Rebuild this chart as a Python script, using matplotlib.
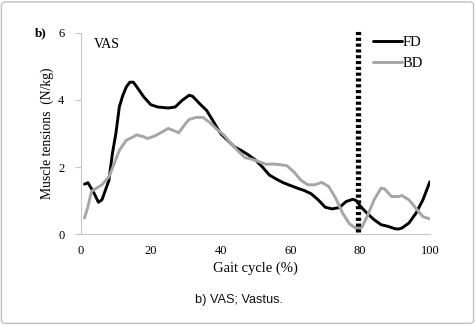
import matplotlib
matplotlib.use("Agg")
import matplotlib.pyplot as plt
from matplotlib.patches import FancyBboxPatch

fd_x = [1, 2, 3.5, 5, 6, 8, 9, 10, 11, 12, 13, 14, 15, 16, 18, 20, 22, 25, 27, 29, 31, 32, 34, 36, 38,
        40, 42, 44, 46, 48, 50, 52, 54, 56, 58, 60, 62, 64, 66, 68, 70, 72, 74, 76, 78, 79, 80, 82,
        84, 86, 88, 90, 91, 92, 94, 96, 98, 100]
fd_y = [1.49, 1.53, 1.27, 0.95, 1.02, 1.6, 2.4, 3.0, 3.8, 4.14, 4.39, 4.53, 4.53, 4.39, 4.09, 3.86,
        3.79, 3.76, 3.79, 3.99, 4.14, 4.11, 3.89, 3.69, 3.35, 3.0, 2.8, 2.6, 2.49, 2.36, 2.21, 2.0,
        1.76, 1.64, 1.53, 1.45, 1.37, 1.30, 1.2, 1.02, 0.8, 0.75, 0.79, 0.97, 1.04, 0.99, 0.84, 0.62,
        0.43, 0.28, 0.23, 0.16, 0.15, 0.18, 0.33, 0.62, 1.02, 1.56]

bd_x = [1, 2, 3, 4, 6, 8, 9, 11, 13, 15, 16, 18, 19, 21, 23, 25, 27, 28, 30, 31, 33, 35, 37, 39, 41,
        43, 45, 47, 49, 51, 53, 55, 57, 59, 61, 63, 65, 67, 69, 71, 73, 75, 77, 79, 80.5, 82, 84, 86,
        87, 89, 91, 92, 94, 96, 98, 100]
bd_y = [0.48, 0.82, 1.27, 1.34, 1.47, 1.71, 1.96, 2.5, 2.8, 2.9, 2.96, 2.9, 2.85, 2.92, 3.03, 3.15,
        3.07, 3.02, 3.3, 3.42, 3.48, 3.48, 3.32, 3.12, 2.95, 2.7, 2.48, 2.28, 2.23, 2.16, 2.08, 2.09,
        2.07, 2.04, 1.86, 1.61, 1.47, 1.47, 1.54, 1.42, 1.07, 0.62, 0.30, 0.16, 0.2, 0.52, 1.02, 1.37,
        1.35, 1.12, 1.12, 1.15, 1.02, 0.77, 0.52, 0.45]

x_ticks = [0, 20, 40, 60, 80, 100]
y_ticks = [0, 2, 4, 6]
toe_off = 79.5

serif = ["Liberation Serif", "DejaVu Serif"]
sans = ["Liberation Sans", "DejaVu Sans"]

fig = plt.figure(figsize=(4.75, 3.26), dpi=100)
ax = fig.add_axes([0.1705, 0.282, 0.7345, 0.617])

ax.plot(fd_x, fd_y, color="black", lw=2.1, label="FD", solid_capstyle="round")
ax.plot(bd_x, bd_y, color="#a6a6a6", lw=2.1, label="BD", solid_capstyle="round")
ax.plot([toe_off, toe_off], [0.05, 6.1], color="black", lw=3.8, linestyle=(0, (0.6, 0.5)),
        clip_on=False)

ax.set_xlim(0, 100)
ax.set_ylim(0, 6)
ax.set_xticks(x_ticks)
ax.set_yticks(y_ticks)
for s in ["top", "right"]:
    ax.spines[s].set_visible(False)
for s in ["left", "bottom"]:
    ax.spines[s].set_color("#c8c8c8")
    ax.spines[s].set_linewidth(0.8)
ax.tick_params(axis="y", length=4, color="#c8c8c8", labelsize=9, pad=8)
ax.tick_params(axis="x", length=0, labelsize=9, pad=8)
for lab in ax.get_xticklabels() + ax.get_yticklabels():
    lab.set_family(serif)

ax.set_xlabel("Gait cycle (%)", family=serif, fontsize=10.5, labelpad=3)
ax.set_ylabel("Muscle tensions  (N/kg)", family=serif, fontsize=9.8, labelpad=3)

ax.text(0.036, 0.94, "VAS", transform=ax.transAxes, family=serif, fontsize=10, va="center")
fig.text(0.073, 0.898, "b)", family=serif, fontsize=9.5, fontweight="bold", va="center")

leg = ax.legend(loc="upper right", bbox_to_anchor=(1.018, 1.05), frameon=False,
                prop={"family": serif, "size": 10.5}, handlelength=2.0, handletextpad=0.05,
                labelspacing=0.55)

fig.text(0.503, 0.081, "b) VAS; Vastus.", family=sans, fontsize=9.2, color="#111111",
         ha="center", va="center")

border = FancyBboxPatch((0.003, 0.008), 0.994, 0.986, boxstyle="round,pad=0,rounding_size=0.01",
                        transform=fig.transFigure, fill=False, edgecolor="#c0c0c0", lw=1.0)
fig.patches.append(border)

fig.savefig("out.png", dpi=100)
